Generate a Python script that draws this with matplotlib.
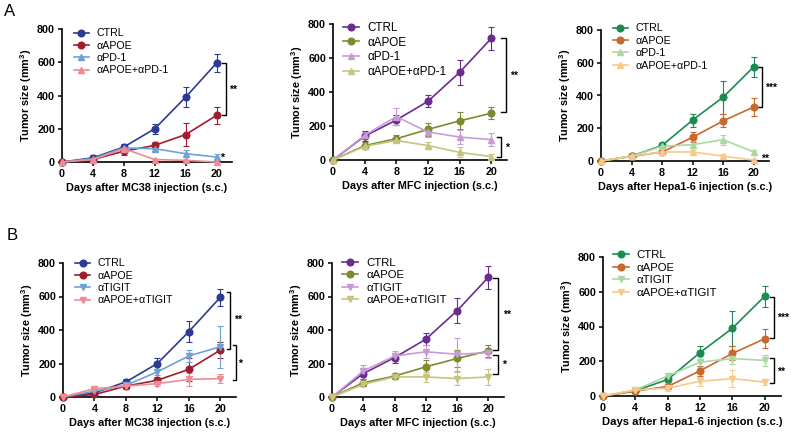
import matplotlib
matplotlib.use('Agg')
import matplotlib.pyplot as plt

plt.rcParams['font.family'] = ['Liberation Sans', 'DejaVu Sans']
plt.rcParams['mathtext.fontset'] = 'custom'
plt.rcParams['mathtext.rm'] = 'Liberation Sans:bold'
plt.rcParams['mathtext.it'] = 'Liberation Sans:bold'
plt.rcParams['mathtext.bf'] = 'Liberation Sans:bold'

W, H = 791, 433

days = [0, 4, 8, 12, 16, 20]

# MC38
mc38_ctrl = [0, 25, 90, 200, 390, 595]
mc38_ctrl_err = [0, 20, 20, 30, 62, 52]
mc38_apoe = [0, 15, 65, 100, 165, 280]
mc38_apoe_err = [0, 5, 20, 20, 70, 50]
mc38_pd1 = [0, 20, 85, 80, 50, 30]
mc38_pd1_err = [0, 10, 20, 15, 20, 20]
mc38_apoe_pd1 = [0, 15, 80, 15, 10, 0]
mc38_apoe_pd1_err = [0, 5, 10, 5, 5, 3]
mc38_tigit = [0, 35, 70, 150, 245, 300]
mc38_tigit_err = [0, 15, 15, 20, 35, 125]
mc38_apoe_tigit = [0, 50, 65, 80, 105, 110]
mc38_apoe_tigit_err = [0, 15, 15, 15, 40, 25]

# MFC
mfc_ctrl = [0, 140, 235, 345, 515, 715]
mfc_ctrl_err = [0, 30, 30, 35, 75, 70]
mfc_apoe = [0, 85, 125, 180, 230, 275]
mfc_apoe_err = [0, 20, 20, 40, 50, 35]
mfc_pd1 = [0, 145, 255, 165, 135, 120]
mfc_pd1_err = [0, 20, 50, 30, 40, 40]
mfc_apoe_pd1 = [0, 80, 115, 85, 45, 20]
mfc_apoe_pd1_err = [0, 15, 15, 20, 30, 15]
mfc_tigit = [0, 155, 245, 270, 255, 265]
mfc_tigit_err = [0, 35, 30, 40, 100, 30]
mfc_apoe_tigit = [0, 75, 120, 120, 110, 120]
mfc_apoe_tigit_err = [0, 10, 15, 30, 40, 50]

# Hepa1-6
hepa_ctrl = [0, 30, 95, 250, 390, 575]
hepa_ctrl_err = [0, 10, 15, 40, 100, 60]
hepa_apoe = [0, 28, 55, 145, 245, 330]
hepa_apoe_err = [0, 5, 15, 30, 40, 55]
hepa_pd1 = [0, 30, 90, 100, 130, 55]
hepa_pd1_err = [0, 5, 15, 20, 30, 10]
hepa_apoe_pd1 = [0, 30, 55, 55, 30, 5]
hepa_apoe_pd1_err = [0, 5, 10, 15, 10, 5]
hepa_tigit = [0, 35, 115, 195, 215, 205]
hepa_tigit_err = [0, 10, 20, 30, 30, 30]
hepa_apoe_tigit = [0, 35, 45, 85, 100, 80]
hepa_apoe_tigit_err = [0, 10, 15, 25, 50, 15]

labels_pd1 = ['CTRL', 'αAPOE', 'αPD-1', 'αAPOE+αPD-1']
labels_tigit = ['CTRL', 'αAPOE', 'αTIGIT', 'αAPOE+αTIGIT']

colors_mc38 = ['#2b3a93', '#a11d2e', '#6da2d6', '#f08b93']
colors_mfc = ['#6b2c91', '#7b8c2f', '#c99bd3', '#c8c47f']
colors_hepa = ['#1b8b4f', '#c9682c', '#a8d9a2', '#f7c98b']


def px_axes(fig, left, top, right, bottom):
    return fig.add_axes([left / W, 1 - bottom / H, (right - left) / W, (bottom - top) / H])


def bracket(ax, y_top, y_bot, x_tick, x_vert, text, tx, ty, fs=7.5):
    ax.plot([x_tick, x_vert, x_vert, x_tick], [y_top, y_top, y_bot, y_bot],
            color='black', lw=1, clip_on=False)
    ax.text(tx, ty, text, fontsize=fs, fontweight='bold', ha='left', va='center')


def draw_panel(ax, series, errs, labels, colors, third_marker, xlabel, leg_x, leg_y,
               leg_fs=7.7, lab_fs=7.8):
    markers = ['o', 'o', third_marker, third_marker]
    for vals, err, lab, col, mk in zip(series, errs, labels, colors, markers):
        ax.errorbar(days, vals, yerr=err, color=col, marker=mk, markersize=4.8,
                    lw=1.2, elinewidth=0.8, capsize=2.5, capthick=0.8,
                    label=lab, clip_on=False, zorder=3)
    ax.set_xlim(0, 22)
    ax.set_ylim(0, 800)
    ax.set_xticks(days)
    ax.set_yticks([0, 200, 400, 600, 800])
    for s in ['top', 'right']:
        ax.spines[s].set_visible(False)
    for s in ['left', 'bottom']:
        ax.spines[s].set_linewidth(1.2)
    ax.tick_params(length=3, width=1.1, pad=2, labelsize=7.7)
    for t in ax.get_xticklabels() + ax.get_yticklabels():
        t.set_fontweight('bold')
    ax.set_xlabel(xlabel, fontsize=lab_fs, fontweight='bold', labelpad=3)
    ax.set_ylabel('Tumor size (mm$^3$)', fontsize=7.8, fontweight='bold', labelpad=2)
    handles, labs = ax.get_legend_handles_labels()
    handles = [h[0] for h in handles]
    ax.legend(handles, labs, loc='upper left', bbox_to_anchor=(leg_x, leg_y),
              frameon=False, fontsize=leg_fs, handlelength=1.4, handletextpad=0.7,
              labelspacing=0.22, borderpad=0, borderaxespad=0)


fig = plt.figure(figsize=(W / 100, H / 100), dpi=100)

# Row A
ax = px_axes(fig, 62, 29, 232, 162)
draw_panel(ax, [mc38_ctrl, mc38_apoe, mc38_pd1, mc38_apoe_pd1],
           [mc38_ctrl_err, mc38_apoe_err, mc38_pd1_err, mc38_apoe_pd1_err],
           labels_pd1, colors_mc38, '^', 'Days after MC38 injection (s.c.)', 0.07, 1.005)
bracket(ax, 595, 280, 20.7, 21.25, '**', 21.6, 437)
ax.text(20.5, 25, '*', fontsize=7.5, fontweight='bold', ha='left', va='center')

ax = px_axes(fig, 333, 24, 507, 160)
draw_panel(ax, [mfc_ctrl, mfc_apoe, mfc_pd1, mfc_apoe_pd1],
           [mfc_ctrl_err, mfc_apoe_err, mfc_pd1_err, mfc_apoe_pd1_err],
           labels_pd1, colors_mfc, '^', 'Days after MFC injection (s.c.)', 0.056, 1.015,
           leg_fs=8.4)
bracket(ax, 715, 280, 21.2, 21.9, '**', 22.4, 496)
bracket(ax, 133, 20, 20.7, 21.2, '*', 21.7, 70)

ax = px_axes(fig, 601, 30, 769, 161)
draw_panel(ax, [hepa_ctrl, hepa_apoe, hepa_pd1, hepa_apoe_pd1],
           [hepa_ctrl_err, hepa_apoe_err, hepa_pd1_err, hepa_apoe_pd1_err],
           labels_pd1, colors_hepa, '^', 'Days after Hepa1-6 injection (s.c.)', 0.07, 1.05)
bracket(ax, 572, 332, 20.6, 21.1, '***', 21.5, 448)
ax.text(20.9, 15, '**', fontsize=7.5, fontweight='bold', ha='left', va='center')

# Row B
ax = px_axes(fig, 63, 263, 236, 397)
draw_panel(ax, [mc38_ctrl, mc38_apoe, mc38_tigit, mc38_apoe_tigit],
           [mc38_ctrl_err, mc38_apoe_err, mc38_tigit_err, mc38_apoe_tigit_err],
           labels_tigit, colors_mc38, 'v', 'Days after MC38 injection (s.c.)', 0.07, 1.035)
bracket(ax, 625, 289, 20.85, 21.3, '**', 21.7, 458)
bracket(ax, 309, 104, 21.6, 22.0, '*', 22.3, 195)

ax = px_axes(fig, 332, 263, 504, 397)
draw_panel(ax, [mfc_ctrl, mfc_apoe, mfc_tigit, mfc_apoe_tigit],
           [mfc_ctrl_err, mfc_apoe_err, mfc_tigit_err, mfc_apoe_tigit_err],
           labels_tigit, colors_mfc, 'v', 'Days after MFC injection (s.c.)', 0.06, 1.04,
           leg_fs=8.2)
bracket(ax, 713, 283, 20.65, 21.28, '**', 21.9, 492)
bracket(ax, 249, 135, 20.65, 21.28, '*', 21.8, 190)

ax = px_axes(fig, 603, 257, 781, 396)
draw_panel(ax, [hepa_ctrl, hepa_apoe, hepa_tigit, hepa_apoe_tigit],
           [hepa_ctrl_err, hepa_apoe_err, hepa_tigit_err, hepa_apoe_tigit_err],
           labels_tigit, colors_hepa, 'v', 'Days after Hepa1-6 injection (s.c.)', 0.055, 1.05,
           leg_fs=8.2, lab_fs=8.1)
bracket(ax, 569, 332, 20.7, 21.1, '***', 21.5, 447)
bracket(ax, 216, 72, 20.7, 21.1, '**', 21.5, 139)

fig.text(4 / W, 1 - 11 / H, 'A', fontsize=12, ha='left', va='center')
fig.text(7 / W, 1 - 236 / H, 'B', fontsize=12, ha='left', va='center')

fig.savefig('out.png', dpi=100)
